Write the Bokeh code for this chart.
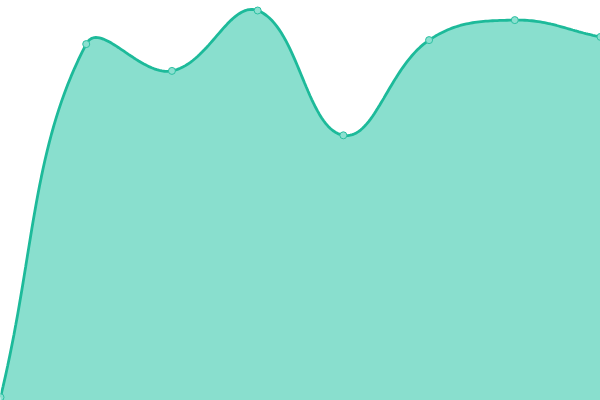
import numpy as np
from bokeh.plotting import figure
from bokeh.models import Range1d
from bokeh.embed import file_html
from bokeh.resources import INLINE

# Data (index positions, values on a 0-100 scale)
categories = [0, 1, 2, 3, 4, 5, 6, 7]
values = [0.8, 89.1, 82.4, 97.5, 66.3, 90.1, 95.1, 90.9]

W, H = 600, 400
X_MIN, X_MAX = 0, 7
Y_MIN, Y_MAX = 0, 100
TENSION = 0.4

p = figure(width=W, height=H, output_backend="svg", toolbar_location=None,
           x_range=Range1d(X_MIN, X_MAX), y_range=Range1d(Y_MIN, Y_MAX),
           min_border=0, min_border_left=0, min_border_right=0,
           min_border_top=0, min_border_bottom=0)
p.axis.visible = False
p.grid.visible = False
p.outline_line_color = None
p.background_fill_color = "white"
p.border_fill_color = "white"


def to_px(x, y):
    return (x - X_MIN) / (X_MAX - X_MIN) * W, (1 - (y - Y_MIN) / (Y_MAX - Y_MIN)) * H


def to_data(px, py):
    return X_MIN + px / W * (X_MAX - X_MIN), Y_MIN + (1 - py / H) * (Y_MAX - Y_MIN)


pts = [to_px(x, y) for x, y in zip(categories, values)]
n = len(pts)
ctrl = []
for i in range(n):
    prev = pts[i - 1] if i > 0 else pts[i]
    cur = pts[i]
    nxt = pts[i + 1] if i < n - 1 else pts[i]
    d01 = np.hypot(cur[0] - prev[0], cur[1] - prev[1])
    d12 = np.hypot(nxt[0] - cur[0], nxt[1] - cur[1])
    tot = d01 + d12
    s01 = d01 / tot if tot else 0
    s12 = d12 / tot if tot else 0
    fa, fb = TENSION * s01, TENSION * s12
    cp_prev = [cur[0] - fa * (nxt[0] - prev[0]), cur[1] - fa * (nxt[1] - prev[1])]
    cp_next = [cur[0] + fb * (nxt[0] - prev[0]), cur[1] + fb * (nxt[1] - prev[1])]
    for cp in (cp_prev, cp_next):
        cp[0] = min(max(cp[0], 0), W)
        cp[1] = min(max(cp[1], 0), H)
    ctrl.append((cp_prev, cp_next))

cx, cy = [], []
t = np.linspace(0, 1, 40)
for i in range(n - 1):
    p0 = np.array(pts[i]); p3 = np.array(pts[i + 1])
    p1 = np.array(ctrl[i][1]); p2 = np.array(ctrl[i + 1][0])
    seg = ((1 - t) ** 3)[:, None] * p0 + (3 * (1 - t) ** 2 * t)[:, None] * p1 \
        + (3 * (1 - t) * t ** 2)[:, None] * p2 + (t ** 3)[:, None] * p3
    if i > 0:
        seg = seg[1:]
    for sx, sy in seg:
        dx, dy = to_data(sx, sy)
        cx.append(dx); cy.append(dy)

p.varea(x=cx, y1=[Y_MIN] * len(cx), y2=cy, fill_color="#89dfce", fill_alpha=1.0)
p.line(cx, cy, line_color="#1dba9a", line_width=2.8)
p.scatter(categories, values, size=7, marker="circle", fill_color="#8ce0d0",
          line_color="#2cc0a2", line_width=1)

open("out.html", "w").write(file_html(p, INLINE))
